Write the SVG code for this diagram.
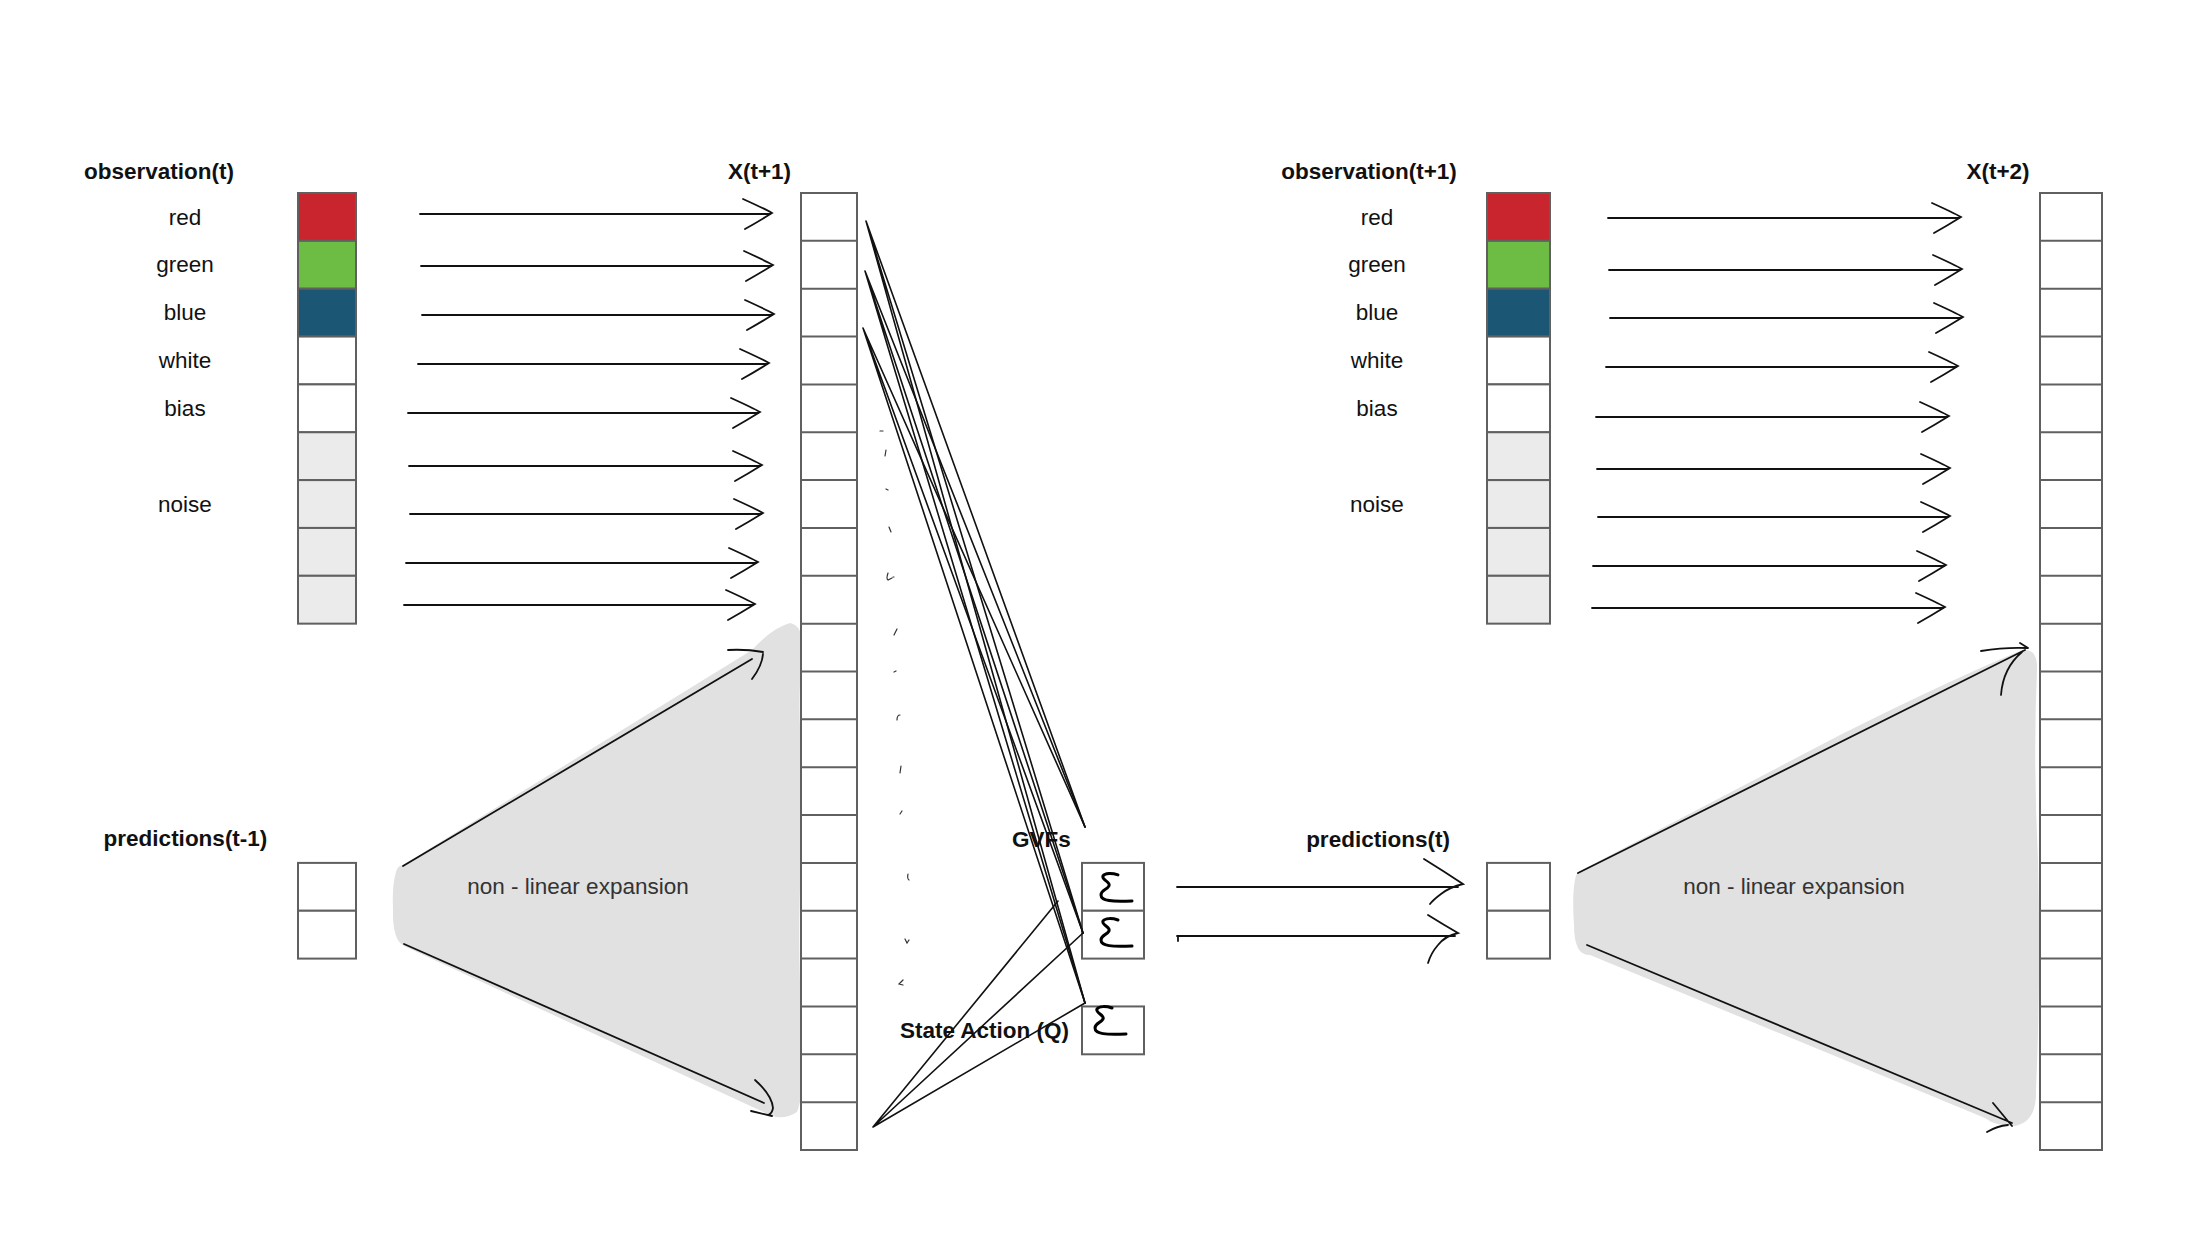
<svg xmlns="http://www.w3.org/2000/svg" xmlns:xlink="http://www.w3.org/1999/xlink" width="2192" height="1248" viewBox="0 0 2192 1248">
<style>
text{font-family:"Liberation Sans",Arial,sans-serif;font-size:22.5px;fill:#111}
.b{font-weight:bold}
.m{text-anchor:middle}
.blobtxt{fill:#333}
.cell{fill:#fff;stroke:#606060;stroke-width:2}
.grid{fill:none;stroke:#606060;stroke-width:2}
.red{fill:#c9252f}
.green{fill:#6dbd44}
.blue{fill:#1b5674}
.noise{fill:#ebebeb}
.blob{fill:#e1e1e1}
.ln{fill:none;stroke:#111;stroke-width:1.8;stroke-linecap:round}
.thin{fill:none;stroke:#111;stroke-width:1.6;stroke-linecap:round}
.ink{fill:none;stroke:#000;stroke-width:3;stroke-linecap:round;stroke-linejoin:round}
.dot{fill:none;stroke:#333;stroke-width:1.2;stroke-linecap:round}
</style>
<defs>
<path id="chev" d="M-29,-15 C-18,-10 -7,-5 0,-1 C-8,4 -18,10 -27,15"/>
<path id="sig" d="M36,12 C30,10 23,10 21,13 C19,17 29,19 27,23 C25,27 19,27 19,32 C19,38 30,39 50,38"/>
</defs>
<rect width="2192" height="1248" fill="#fff"/>

<g id="blob-left">
<path class="blob" d="M396,872 Q397,866 403,865 L752,650 Q772,628 790,623 Q806,626 802,660 Q797,700 802,760 Q808,800 801,860 Q797,950 802,1020 Q806,1090 797,1112 Q785,1120 772,1116 L404,946 Q392,940 393,908 Q392,885 396,872 Z"/>
<text class="blobtxt m" x="578" y="894">non - linear expansion</text>
</g>
<g id="blob-right">
<path class="blob" d="M1575,880 Q1576,872 1580,871 L1840,735 Q1950,680 2020,651 Q2038,646 2037,670 Q2033,760 2038,860 Q2041,980 2036,1090 Q2037,1122 2015,1126 Q1995,1126 1985,1118 L1590,955 Q1574,956 1574,925 Q1572,895 1575,880 Z"/>
<text class="blobtxt m" x="1794" y="894">non - linear expansion</text>
</g>

<g id="obs-t">
<text class="b m" x="159" y="179">observation(t)</text>
<rect class="cell red" x="298" y="193" width="58" height="47.85"/>
<rect class="cell green" x="298" y="240.85" width="58" height="47.85"/>
<rect class="cell blue" x="298" y="288.7" width="58" height="47.85"/>
<rect class="cell" x="298" y="336.55" width="58" height="47.85"/>
<rect class="cell" x="298" y="384.4" width="58" height="47.85"/>
<rect class="cell noise" x="298" y="432.25" width="58" height="47.85"/>
<rect class="cell noise" x="298" y="480.1" width="58" height="47.85"/>
<rect class="cell noise" x="298" y="527.95" width="58" height="47.85"/>
<rect class="cell noise" x="298" y="575.8" width="58" height="47.85"/>
<text class="m" x="185" y="224.5">red</text>
<text class="m" x="185" y="272">green</text>
<text class="m" x="185" y="320">blue</text>
<text class="m" x="185" y="368">white</text>
<text class="m" x="185" y="416">bias</text>
<text class="m" x="185" y="511.5">noise</text>
</g>

<g id="x-t1">
<text class="b m" x="759.5" y="179">X(t+1)</text>
<rect class="cell" x="801" y="193" width="56" height="957"/>
<path class="grid" d="M801,240.85h56M801,288.7h56M801,336.55h56M801,384.4h56M801,432.25h56M801,480.1h56M801,527.95h56M801,575.8h56M801,623.65h56M801,671.5h56M801,719.35h56M801,767.2h56M801,815.05h56M801,862.9h56M801,910.75h56M801,958.6h56M801,1006.45h56M801,1054.3h56M801,1102.15h56"/>
</g>

<g id="pred-t-1">
<text class="b m" x="185.5" y="846">predictions(t-1)</text>
<rect class="cell" x="298" y="862.9" width="58" height="47.85"/>
<rect class="cell" x="298" y="910.75" width="58" height="47.85"/>
</g>

<g id="gvfs">
<text class="b m" x="1041.5" y="847">GVFs</text>
<rect class="cell" x="1082" y="862.9" width="62" height="47.85"/>
<rect class="cell" x="1082" y="910.75" width="62" height="47.85"/>
<use href="#sig" class="ink" transform="translate(1082,862.9)"/>
<use href="#sig" class="ink" transform="translate(1082,908)"/>
</g>

<g id="state-action">
<text class="b m" x="984.5" y="1038">State Action (Q)</text>
<rect class="cell" x="1082" y="1006.45" width="62" height="47.85"/>
<use href="#sig" class="ink" transform="translate(1076,996)"/>
</g>

<g id="obs-t1">
<text class="b m" x="1369" y="179">observation(t+1)</text>
<rect class="cell red" x="1487" y="193" width="63" height="47.85"/>
<rect class="cell green" x="1487" y="240.85" width="63" height="47.85"/>
<rect class="cell blue" x="1487" y="288.7" width="63" height="47.85"/>
<rect class="cell" x="1487" y="336.55" width="63" height="47.85"/>
<rect class="cell" x="1487" y="384.4" width="63" height="47.85"/>
<rect class="cell noise" x="1487" y="432.25" width="63" height="47.85"/>
<rect class="cell noise" x="1487" y="480.1" width="63" height="47.85"/>
<rect class="cell noise" x="1487" y="527.95" width="63" height="47.85"/>
<rect class="cell noise" x="1487" y="575.8" width="63" height="47.85"/>
<text class="m" x="1377" y="224.5">red</text>
<text class="m" x="1377" y="272">green</text>
<text class="m" x="1377" y="320">blue</text>
<text class="m" x="1377" y="368">white</text>
<text class="m" x="1377" y="416">bias</text>
<text class="m" x="1377" y="511.5">noise</text>
</g>

<g id="pred-t">
<text class="b m" x="1378" y="847">predictions(t)</text>
<rect class="cell" x="1487" y="862.9" width="63" height="47.85"/>
<rect class="cell" x="1487" y="910.75" width="63" height="47.85"/>
</g>

<g id="x-t2">
<text class="b m" x="1998" y="179">X(t+2)</text>
<rect class="cell" x="2040" y="193" width="62" height="957"/>
<path class="grid" d="M2040,240.85h62M2040,288.7h62M2040,336.55h62M2040,384.4h62M2040,432.25h62M2040,480.1h62M2040,527.95h62M2040,575.8h62M2040,623.65h62M2040,671.5h62M2040,719.35h62M2040,767.2h62M2040,815.05h62M2040,862.9h62M2040,910.75h62M2040,958.6h62M2040,1006.45h62M2040,1054.3h62M2040,1102.15h62"/>
</g>

<g id="marks">
<path class="dot" d="M880,431l3,0M886,450l-1,6M886,489l2,1M889,527l2,5M888,573q-2,6 0,7l4,-2M893,577l1,0M897,629l-3,6M894,672l2,-1M897,720q0,-5 3,-5M901,766l-1,7M900,814l2,-3M908,874q-1,5 1,6M905,939l2,4l2,-3M903,980l-4,4l4,1"/>
</g>

<g id="connectors">
<g class="ln">
<path d="M420,214H770"/><use href="#chev" transform="translate(772,214)"/>
<path d="M421,266H771"/><use href="#chev" transform="translate(773,266)"/>
<path d="M422,315H772"/><use href="#chev" transform="translate(774,315)"/>
<path d="M418,364H767"/><use href="#chev" transform="translate(769,364)"/>
<path d="M408,413H758"/><use href="#chev" transform="translate(760,413)"/>
<path d="M409,466H760"/><use href="#chev" transform="translate(762,466)"/>
<path d="M410,514H761"/><use href="#chev" transform="translate(763,514)"/>
<path d="M406,563H756"/><use href="#chev" transform="translate(758,563)"/>
<path d="M404,605H753"/><use href="#chev" transform="translate(755,605)"/>

<path d="M1608,218H1959"/><use href="#chev" transform="translate(1961,218)"/>
<path d="M1609,270H1960"/><use href="#chev" transform="translate(1962,270)"/>
<path d="M1610,318H1961"/><use href="#chev" transform="translate(1963,318)"/>
<path d="M1606,367H1956"/><use href="#chev" transform="translate(1958,367)"/>
<path d="M1596,417H1947"/><use href="#chev" transform="translate(1949,417)"/>
<path d="M1597,469H1948"/><use href="#chev" transform="translate(1950,469)"/>
<path d="M1598,517H1948"/><use href="#chev" transform="translate(1950,517)"/>
<path d="M1593,566H1944"/><use href="#chev" transform="translate(1946,566)"/>
<path d="M1592,608H1943"/><use href="#chev" transform="translate(1945,608)"/>

<path d="M403,866L752,659M728,650Q746,649 763,652M763,654Q762,666 752,679"/>
<path d="M404,944L764,1103M755,1080Q772,1095 773,1108Q772,1114 768,1115M751,1111L772,1116"/>
<path d="M1578,873L2025,650M1981,651Q2005,647 2027,648M2020,643L2028,648M2022,652Q2003,668 2001,695"/>
<path d="M1587,945L2012,1123M1993,1103L2012,1126M1987,1132Q1997,1126 2008,1125"/>

<path d="M1177,887H1458M1424,859Q1445,872 1463,884Q1450,887 1441,894Q1433,900 1430,904"/>
<path d="M1177,936H1455M1178,936v5M1428,915Q1444,925 1458,933Q1445,936 1438,945Q1431,953 1428,963"/>
</g>
<g class="thin">
<path d="M866,221L1085,827M866,221L1083,933M866,221L1085,1003"/>
<path d="M865,271L1085,827M865,271L1083,933M865,271L1085,1003"/>
<path d="M863,328L1085,827M863,328L1083,933M863,328L1085,1003"/>
<path d="M873,1127L1058,901M873,1127L1083,933M873,1127L1085,1003"/>
</g>
</g>
</svg>
